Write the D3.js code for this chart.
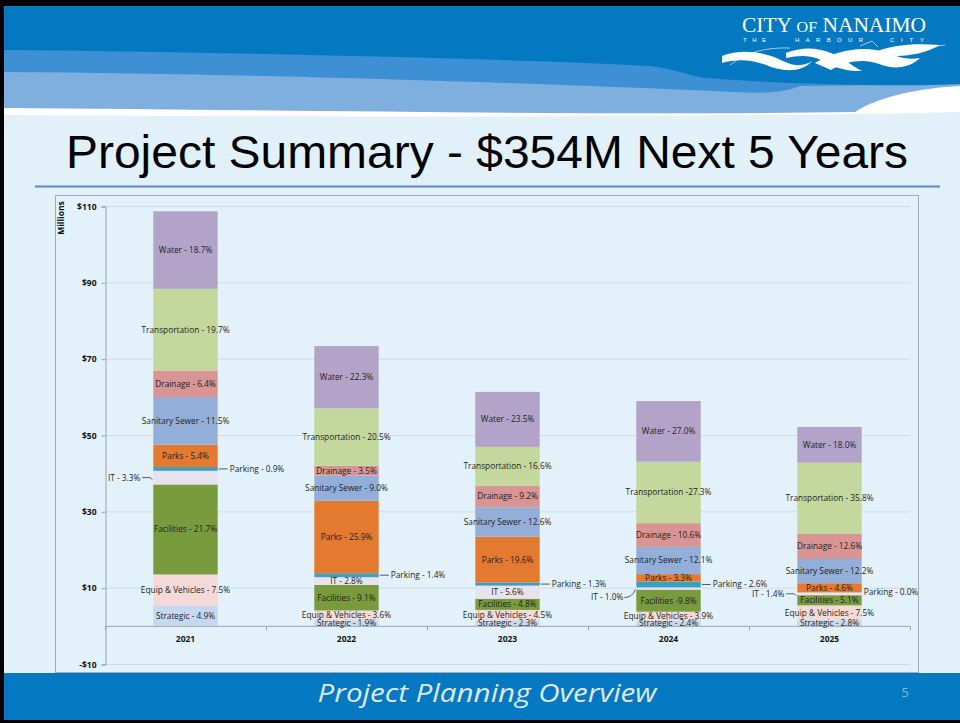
<!DOCTYPE html>
<html>
<head>
<meta charset="utf-8">
<script src="https://cdn.jsdelivr.net/npm/d3@7"></script>
<style>
  html, body { margin: 0; padding: 0; background: #000; }
  svg { display: block; }
  .seg-label { font-family: 'Liberation Sans Narrow', 'Arial Narrow', 'Open Sans', sans-serif; font-size: 8.3px; fill: #1e1e1e; }
  .axis-label { font-family: 'Liberation Sans Narrow', 'Open Sans', sans-serif; font-size: 8.5px; font-weight: bold; fill: #111; }
</style>
</head>
<body>
<div id="slide"></div>
<script>
// years and categories (stacked bottom to top)
var years = ['2021', '2022', '2023', '2024', '2025']
var categories = ['Strategic', 'Equip & Vehicles', 'Facilities', 'IT', 'Parking',
    'Parks', 'Sanitary Sewer', 'Drainage', 'Transportation', 'Water']

// values in $ millions
var strategic = [5.32, 1.39, 1.41, 1.41, 1.46]
var equipVehicles = [8.15, 2.64, 2.76, 2.30, 3.91]
var facilities = [23.57, 6.67, 2.94, 5.77, 2.66]
var it = [3.58, 2.05, 3.43, 0.59, 0.73]
var parking = [0.98, 1.03, 0.80, 1.53, 0.00]
var parks = [5.86, 18.98, 12.01, 1.94, 2.40]
var sanitarySewer = [12.49, 6.60, 7.72, 7.13, 6.36]
var drainage = [6.95, 2.57, 5.64, 6.24, 6.56]
var transportation = [21.39, 15.03, 10.18, 16.08, 18.65]
var water = [20.31, 16.35, 14.41, 15.90, 9.38]

// segment labels as printed
var strategicLabels = ['Strategic - 4.9%', 'Strategic - 1.9%', 'Strategic - 2.3%', 'Strategic - 2.4%', 'Strategic - 2.8%']
var equipLabels = ['Equip & Vehicles - 7.5%', 'Equip & Vehicles - 3.6%', 'Equip & Vehicles - 4.5%', 'Equip & Vehicles - 3.9%', 'Equip & Vehicles - 7.5%']
var facilitiesLabels = ['Facilities - 21.7%', 'Facilities - 9.1%', 'Facilities - 4.8%', 'Facilities -9.8%', 'Facilities - 5.1%']
var itLabels = ['IT - 3.3%', 'IT - 2.8%', 'IT - 5.6%', 'IT - 1.0%', 'IT - 1.4%']
var parkingLabels = ['Parking - 0.9%', 'Parking - 1.4%', 'Parking - 1.3%', 'Parking - 2.6%', 'Parking - 0.0%']
var parksLabels = ['Parks - 5.4%', 'Parks - 25.9%', 'Parks - 19.6%', 'Parks - 3.3%', 'Parks - 4.6%']
var sewerLabels = ['Sanitary Sewer - 11.5%', 'Sanitary Sewer - 9.0%', 'Sanitary Sewer - 12.6%', 'Sanitary Sewer - 12.1%', 'Sanitary Sewer - 12.2%']
var drainageLabels = ['Drainage - 6.4%', 'Drainage - 3.5%', 'Drainage - 9.2%', 'Drainage - 10.6%', 'Drainage - 12.6%']
var transportationLabels = ['Transportation - 19.7%', 'Transportation - 20.5%', 'Transportation - 16.6%', 'Transportation -27.3%', 'Transportation - 35.8%']
var waterLabels = ['Water - 18.7%', 'Water - 22.3%', 'Water - 23.5%', 'Water - 27.0%', 'Water - 18.0%']

var yTicks = [-10, 10, 30, 50, 70, 90, 110]
var yTickLabels = ['-$10', '$10', '$30', '$50', '$70', '$90', '$110']

var valuesBy = [strategic, equipVehicles, facilities, it, parking, parks, sanitarySewer, drainage, transportation, water]
var labelsBy = [strategicLabels, equipLabels, facilitiesLabels, itLabels, parkingLabels, parksLabels, sewerLabels, drainageLabels, transportationLabels, waterLabels]
var colors = ['#c6d8ef', '#f3dad7', '#7a9a3e', '#e8e1ee', '#38a0c4', '#e47a30',
    '#93aed9', '#d99594', '#c4d79c', '#b3a3c8']

var W = 960, H = 723
var svg = d3.select('#slide').append('svg').attr('width', W).attr('height', H)

// ---- slide background + header waves
svg.append('rect').attr('width', W).attr('height', H).attr('fill', '#000')
svg.append('rect').attr('x', 4).attr('y', 6).attr('width', W - 4).attr('height', 714).attr('fill', '#e2f0fa')
var hdr = svg.append('g')
hdr.append('path').attr('fill', '#ffffff')
    .attr('d', 'M4,6 H960 V112 C700,118 300,117 4,115 Z')
hdr.append('path').attr('fill', '#7eafdf')
    .attr('d', 'M4,6 H960 V86 C920,88 880,96 855,112 C600,116 300,110 4,108 Z')
hdr.append('path').attr('fill', '#3d90d4')
    .attr('d', 'M4,6 H960 V84 L800,86 C785,92 765,94 735,92 C600,86 300,74 4,72 Z')
hdr.append('path').attr('fill', '#0479c2')
    .attr('d', 'M4,6 H960 V84 C900,87 800,85 705,78 C690,76 680,70 650,66 C500,58 200,52 4,50 Z')

// logo
var logo = svg.append('g').attr('fill', '#fff')
var lt = logo.append('text').attr('x', 742).attr('y', 32)
    .attr('font-family', "'Liberation Serif', serif").attr('font-size', 20)
    .attr('textLength', 184).attr('lengthAdjust', 'spacingAndGlyphs')
lt.append('tspan').text('CITY ')
lt.append('tspan').attr('font-size', 15).text('OF')
lt.append('tspan').text(' NANAIMO')
;[['THE', 743, 766], ['HARBOUR', 795, 863], ['CITY', 890, 924]].forEach(function (d) {
    logo.append('text').attr('x', d[1]).attr('y', 42)
        .attr('font-family', "'Liberation Sans', sans-serif").attr('font-size', 6)
        .attr('textLength', d[2] - d[1]).attr('lengthAdjust', 'spacing').text(d[0])
})
var waves = logo.append('g').attr('transform', 'translate(0,3)')
waves.append('path').attr('d', 'M722,53 C742,45 765,49 783,58 C795,64 805,63 812,58 C802,70 782,69 766,62 C750,56 736,56 722,60 Z')
waves.append('path').attr('d', 'M786,50 C801,44 816,44 831,50 C845,56 852,63 862,68 C846,69 831,63 821,57 C811,52 799,52 786,55 Z')
waves.append('path').attr('d', 'M815,60 C835,48 860,43 880,48 C895,52 905,58 920,55 C910,65 894,67 879,61 C864,55 846,58 831,67 Z')
waves.append('path').attr('d', 'M872,50 C892,42 912,40 940,42 C928,49 912,53 896,53 Z')
waves.append('path').attr('fill', 'none').attr('stroke', '#fff').attr('stroke-width', 0.6)
    .attr('d', 'M730,62 C745,50 765,44 790,45 M860,43 L872,38 L878,44 M905,52 C918,46 930,44 945,42')

// title + rule
svg.append('text').attr('x', 487).attr('y', 168).attr('text-anchor', 'middle')
    .attr('font-family', "'Liberation Sans', Arial, sans-serif").attr('font-size', 46)
    .attr('fill', '#000').attr('textLength', 842).attr('lengthAdjust', 'spacingAndGlyphs')
    .text('Project Summary - $354M Next 5 Years')
svg.append('line').attr('x1', 35).attr('x2', 940).attr('y1', 186.5).attr('y2', 186.5)
    .attr('stroke', '#5b88c6').attr('stroke-width', 2)

// footer
svg.append('rect').attr('x', 4).attr('y', 673).attr('width', W - 4).attr('height', 47).attr('fill', '#0479c2')
svg.append('text').attr('x', 487).attr('y', 702).attr('text-anchor', 'middle')
    .attr('font-family', "'Open Sans', sans-serif").attr('font-style', 'italic').attr('font-size', 26)
    .attr('fill', '#dfe7ef').attr('textLength', 339).attr('lengthAdjust', 'spacingAndGlyphs')
    .text('Project Planning Overview')
svg.append('text').attr('x', 905).attr('y', 697).attr('text-anchor', 'middle')
    .attr('font-family', "'Open Sans', sans-serif").attr('font-size', 13).attr('fill', '#8cb1d6').text('5')

// ---- chart frame
svg.append('rect').attr('x', 55.5).attr('y', 195.5).attr('width', 863).attr('height', 477)
    .attr('fill', '#e3f1fb').attr('stroke', '#a3acb5')

var x = d3.scaleBand().domain(years).range([105, 910]).paddingInner(0.6).paddingOuter(0.3)
var y = d3.scaleLinear().domain([-10, 110]).range([664, 206])

var g = svg.append('g')

// gridlines
g.selectAll('line.grid').data(yTicks).enter().append('line')
    .attr('x1', 105).attr('x2', 910)
    .attr('y1', function (d) { return y(d) + 0.5 }).attr('y2', function (d) { return y(d) + 0.5 })
    .attr('stroke', '#cfd9e2').attr('stroke-width', 1)

// y axis
var yAxis = g.append('g').attr('transform', 'translate(105.5,0.5)')
    .call(d3.axisLeft(y).tickValues(yTicks).tickSize(4).tickFormat(function (d, i) { return yTickLabels[i] }))
yAxis.select('.domain').attr('stroke', '#9aa3ad')
yAxis.selectAll('.tick line').attr('stroke', '#9aa3ad')
yAxis.selectAll('text').attr('class', 'axis-label').attr('x', -9)

svg.append('text').attr('transform', 'translate(64,218) rotate(-90)').attr('text-anchor', 'middle')
    .attr('class', 'axis-label').attr('font-size', 6.5).text('Millions')

// stacked bars
var rows = years.map(function (yr, j) {
    var r = { year: yr }
    categories.forEach(function (c, i) { r[c] = valuesBy[i][j] })
    return r
})
var stacked = d3.stack().keys(categories)(rows)

var layers = g.selectAll('g.layer').data(stacked).enter().append('g')
    .attr('class', 'layer').attr('fill', function (d, i) { return colors[i] })
layers.selectAll('rect').data(function (d) { return d }).enter().append('rect')
    .attr('x', function (d) { return x(d.data.year) })
    .attr('width', x.bandwidth())
    .attr('y', function (d) { return y(d[1]) })
    .attr('height', function (d) { return y(d[0]) - y(d[1]) })

// x axis at zero
var xAxis = g.append('g').attr('transform', 'translate(0,' + (y(0) + 0.5) + ')')
xAxis.append('line').attr('x1', 105).attr('x2', 910).attr('stroke', '#9aa3ad')
var bounds = d3.range(years.length + 1).map(function (i) { return 105 + i * x.step() })
xAxis.selectAll('line.tk').data(bounds).enter().append('line')
    .attr('x1', function (d) { return Math.round(d) + 0.5 }).attr('x2', function (d) { return Math.round(d) + 0.5 })
    .attr('y1', 0).attr('y2', 4).attr('stroke', '#9aa3ad')
xAxis.selectAll('text').data(years).enter().append('text').attr('class', 'axis-label')
    .attr('x', function (d) { return x(d) + x.bandwidth() / 2 }).attr('y', 16)
    .attr('text-anchor', 'middle').text(function (d) { return d })

// segment labels
// IT label outside (offset) or inside (null), per year
var itOutside = [0, null, null, 9, 0]
var labG = g.append('g')
stacked.forEach(function (layer, i) {
    var cat = categories[i]
    layer.forEach(function (d, j) {
        var x0 = x(d.data.year), x1 = x0 + x.bandwidth()
        var cy = y((d[0] + d[1]) / 2)
        var txt = labelsBy[i][j]
        if (cat === 'Parking') {
            var hasLine = d[1] - d[0] > 0
            if (hasLine) {
                labG.append('line').attr('x1', x1 + 1).attr('x2', x1 + 10).attr('y1', cy).attr('y2', cy)
                    .attr('stroke', '#333').attr('stroke-width', 0.8)
            }
            labG.append('text').attr('class', 'seg-label').attr('x', hasLine ? x1 + 12 : x1 + 2)
                .attr('y', cy).attr('dy', '0.35em').text(txt)
        } else if (cat === 'IT' && itOutside[j] !== null) {
            var off = itOutside[j]
            labG.append('path').attr('fill', 'none').attr('stroke', '#333').attr('stroke-width', 0.8)
                .attr('d', off ? 'M' + (x0 - 12) + ',' + (cy + off) + ' Q' + (x0 - 4) + ',' + (cy + off) + ' ' + (x0 - 1) + ',' + (cy + 1)
                    : 'M' + (x0 - 11) + ',' + cy + ' L' + (x0 - 3) + ',' + cy + ' L' + (x0 - 1) + ',' + (cy + 2))
            labG.append('text').attr('class', 'seg-label').attr('text-anchor', 'end')
                .attr('x', x0 - 13).attr('y', cy + off).attr('dy', '0.35em').text(txt)
        } else {
            labG.append('text').attr('class', 'seg-label').attr('text-anchor', 'middle')
                .attr('x', x0 + x.bandwidth() / 2).attr('y', cy).attr('dy', '0.35em').text(txt)
        }
    })
})
</script>
</body>
</html>
